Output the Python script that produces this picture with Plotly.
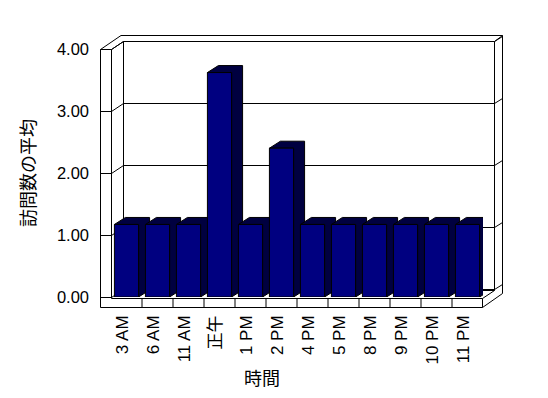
import plotly.graph_objects as go

# ---- data ----
categories = ["3 AM", "6 AM", "11 AM", "正午", "1 PM", "2 PM", "4 PM",
              "5 PM", "8 PM", "9 PM", "10 PM", "11 PM"]
values = [1.17, 1.17, 1.17, 3.62, 1.17, 2.40, 1.17, 1.17, 1.17, 1.17, 1.17, 1.17]
y_ticks = [0, 1, 2, 3, 4]
y_tick_text = ["0.00", "1.00", "2.00", "3.00", "4.00"]
y_title = "訪問数の平均"
x_title = "時間"

# ---- layout geometry (pixels) ----
FIG_W, FIG_H = 548, 398
L, R, T, B = 111, 483, 49, 297
W, H = R - L, B - T
Y_MAX = 4
PXU = H / Y_MAX
BAR_W = 0.78
SLOT = W / len(categories)
HW = BAR_W * SLOT / 2
BDX, BDY = 11, 7          # bar depth in px
WALL_X0, WALL_X1 = 100.5, 111.5
BACK_L, BACK_R, BACK_RO = 123.5, 494.5, 502.5
TOP_IN, TOP_OUT = 41.5, 35.5
FLOOR_TOP, FLOOR_BOT = 298.5, 307.5
NAVY = "#000080"
DARK = "#000040"
FONT = "Liberation Sans, Arial, Noto Sans CJK JP, sans-serif"


def px(x):
    return (x - L) / W


def py(y):
    return (B - y) / H


def vy(v):
    return B - v * PXU


shapes = []


def line(x0, y0, x1, y1):
    shapes.append(dict(type="line", xref="paper", yref="paper", layer="below",
                       x0=px(x0), y0=py(y0), x1=px(x1), y1=py(y1),
                       line=dict(color="black", width=1)))


# left wall front face
line(WALL_X0, 49.5, WALL_X0, FLOOR_BOT)
line(WALL_X1, 49.5, WALL_X1, FLOOR_TOP)
line(WALL_X0, 49.5, WALL_X1, 49.5)
# left wall top
line(WALL_X0, 49.5, 121, TOP_OUT)
line(WALL_X1, 49.5, BACK_L, TOP_IN)
# back wall top strip
line(121, TOP_OUT, BACK_RO, TOP_OUT)
line(BACK_L, TOP_IN, BACK_R, TOP_IN)
line(BACK_R, TOP_IN, BACK_RO, TOP_OUT)
# back wall edges
line(BACK_L, TOP_IN, BACK_L, 290.5)
line(BACK_R, TOP_IN, BACK_R, 290.5)
line(BACK_RO, TOP_OUT, BACK_RO, 293.5)
# floor
line(BACK_L, 290.5, BACK_R, 290.5)
line(WALL_X1, FLOOR_TOP, 482.5, FLOOR_TOP)
line(WALL_X0, FLOOR_BOT, 482.5, FLOOR_BOT)
line(482.5, FLOOR_TOP, 482.5, FLOOR_BOT)
line(482.5, FLOOR_TOP, BACK_R, 290.5)
line(482.5, FLOOR_BOT, BACK_RO, 293.5)

# gridlines (front tick + diagonal + back wall line + right edge)
for v in y_ticks:
    yf = round(vy(v)) + 0.5
    yb = yf - 8
    line(WALL_X0, yf, WALL_X1, yf)
    line(WALL_X1, yf, BACK_L, yb)
    line(BACK_L, yb, BACK_R, yb)
    line(BACK_R, yb, BACK_RO, yb - 5)

# floor category separators (data-referenced)
for k in range(1, len(categories)):
    shapes.append(dict(type="line", xref="x", yref="paper", layer="below",
                       x0=k - 0.5, x1=k - 0.5, y0=py(FLOOR_TOP), y1=py(FLOOR_BOT),
                       line=dict(color="black", width=1)))

# bar depth (top + side faces), anchored to each bar
dyv = BDY / PXU
for c, v in zip(categories, values):
    path = (f"M{-HW},{v} L{-HW + BDX},{v + dyv} L{HW + BDX},{v + dyv} "
            f"L{HW + BDX},{dyv} L{HW},0 L{HW},{v} Z")
    shapes.append(dict(type="path", xref="x", yref="y", layer="below",
                       xsizemode="pixel", xanchor=c, path=path,
                       fillcolor=DARK, line=dict(color="black", width=1)))

fig = go.Figure(go.Bar(
    x=categories, y=values, width=BAR_W,
    marker=dict(color=NAVY, line=dict(color="black", width=1)),
))

fig.update_layout(
    width=FIG_W, height=FIG_H,
    margin=dict(l=L, r=FIG_W - R, t=T, b=FIG_H - B, pad=0),
    paper_bgcolor="white", plot_bgcolor="rgba(0,0,0,0)",
    showlegend=False,
    font=dict(family=FONT, size=16, color="black"),
    shapes=shapes,
    xaxis=dict(showgrid=False, zeroline=False, showline=False, ticks="",
               tickangle=-90, ticklabelstandoff=14, ticklabelshift=-4,
               tickfont=dict(size=17), range=[-0.5, len(categories) - 0.5]),
    yaxis=dict(showgrid=False, zeroline=False, showline=False, ticks="",
               range=[0, Y_MAX], tickvals=y_ticks, ticktext=y_tick_text,
               ticklabelstandoff=21, tickfont=dict(size=16.5),
               title=dict(text=y_title, standoff=16,
                          font=dict(size=18, family="Noto Sans CJK JP"))),
    annotations=[dict(text=x_title, xref="paper", yref="paper",
                      x=px(262), y=py(377), xanchor="center", yanchor="middle",
                      showarrow=False,
                      font=dict(size=18, family="Noto Sans CJK JP"))],
)

fig.write_html("out.html")
